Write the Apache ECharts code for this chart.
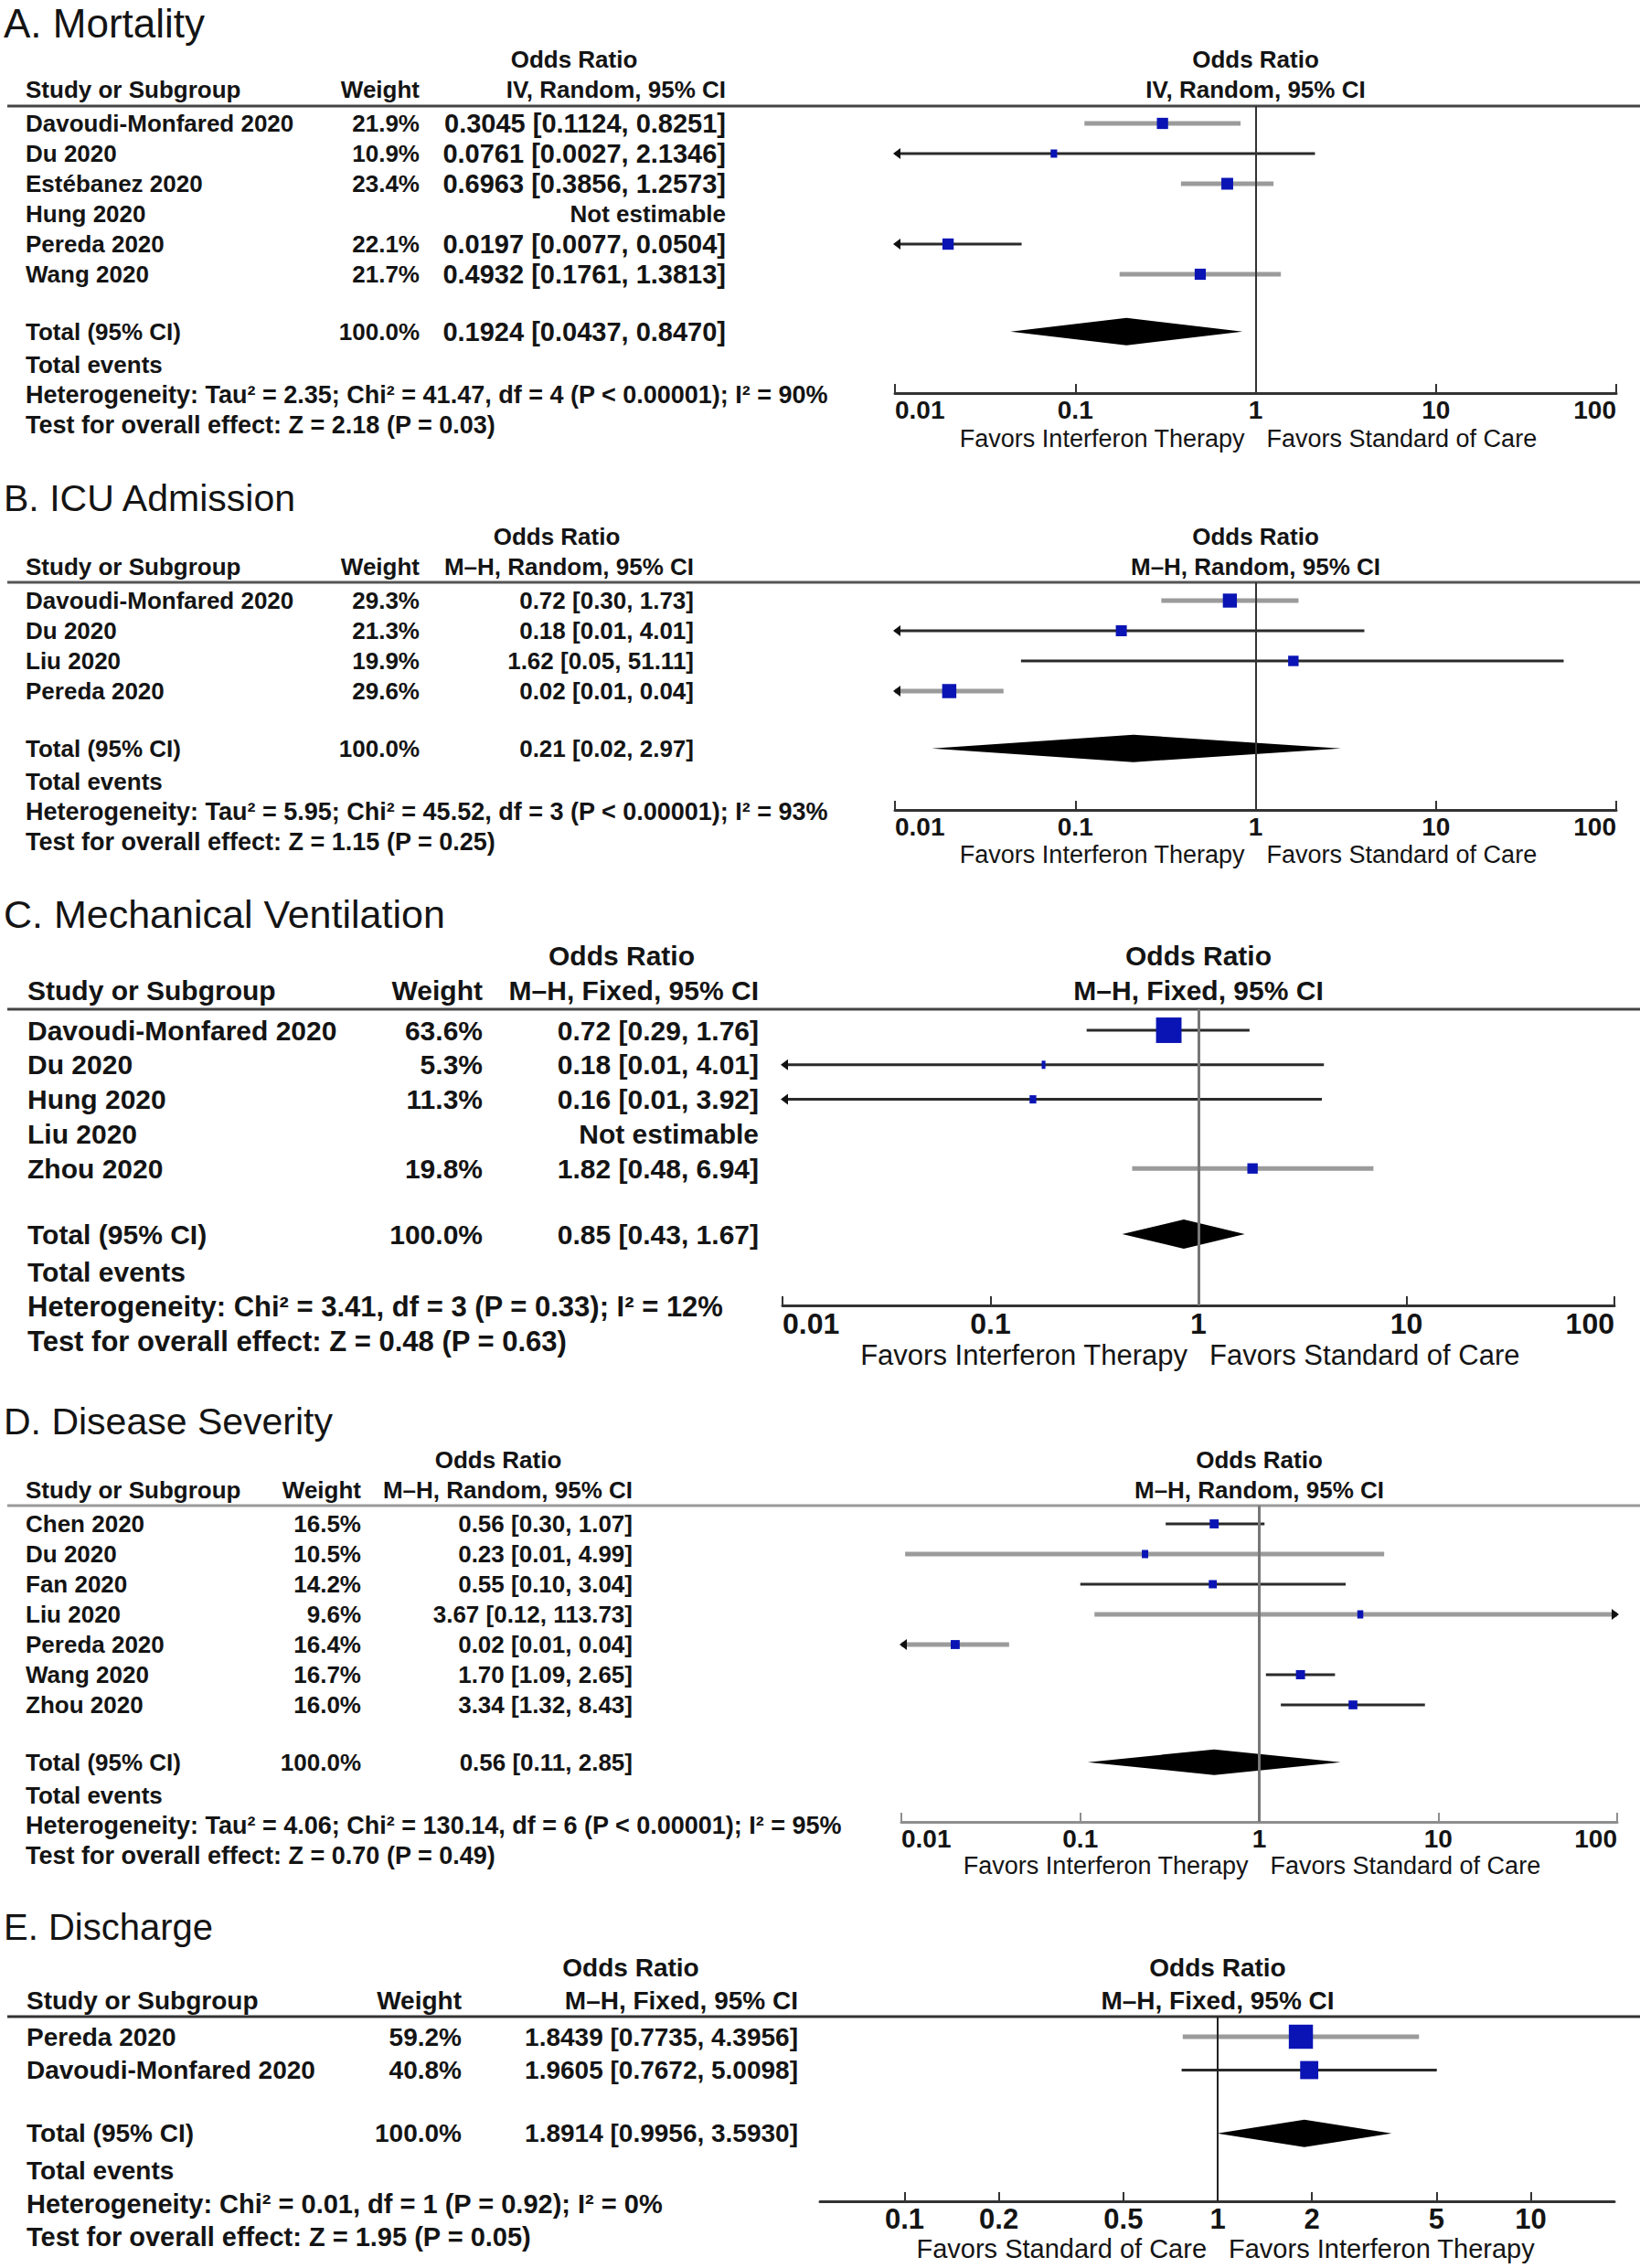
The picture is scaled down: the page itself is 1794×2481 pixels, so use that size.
<!DOCTYPE html>
<html>
<head>
<meta charset="utf-8">
<script src="https://cdn.jsdelivr.net/npm/echarts@6/dist/echarts.min.js"></script>
<style>
html, body { margin: 0; padding: 0; background: #fff; }
#chart { width: 1794px; height: 2481px; }
</style>
</head>
<body>
<div id="chart"></div>
<script>
var FONT = '"Liberation Sans", Arial, Helvetica, sans-serif';

// ---- A. Mortality (IV, Random) ----
var studiesA = ['Davoudi-Monfared 2020', 'Du 2020', 'Estébanez 2020', 'Hung 2020', 'Pereda 2020', 'Wang 2020'];
var weightsA = [21.9, 10.9, 23.4, null, 22.1, 21.7];
var orA = [0.3045, 0.0761, 0.6963, null, 0.0197, 0.4932];
var lowerA = [0.1124, 0.0027, 0.3856, null, 0.0077, 0.1761];
var upperA = [0.8251, 2.1346, 1.2573, null, 0.0504, 1.3813];
var totalA = [0.1924, 0.0437, 0.8470];
var statsA = ['Heterogeneity: Tau² = 2.35; Chi² = 41.47, df = 4 (P < 0.00001); I² = 90%', 'Test for overall effect: Z = 2.18 (P = 0.03)'];

// ---- B. ICU Admission (M-H, Random) ----
var studiesB = ['Davoudi-Monfared 2020', 'Du 2020', 'Liu 2020', 'Pereda 2020'];
var weightsB = [29.3, 21.3, 19.9, 29.6];
var orB = [0.72, 0.18, 1.62, 0.02];
var lowerB = [0.30, 0.008, 0.05, 0.008];   // <0.01 drawn with arrow, printed as 0.01
var upperB = [1.73, 4.01, 51.11, 0.04];
var totalB = [0.21, 0.016, 2.97];
var statsB = ['Heterogeneity: Tau² = 5.95; Chi² = 45.52, df = 3 (P < 0.00001); I² = 93%', 'Test for overall effect: Z = 1.15 (P = 0.25)'];

// ---- C. Mechanical Ventilation (M-H, Fixed) ----
var studiesC = ['Davoudi-Monfared 2020', 'Du 2020', 'Hung 2020', 'Liu 2020', 'Zhou 2020'];
var weightsC = [63.6, 5.3, 11.3, null, 19.8];
var orC = [0.72, 0.18, 0.16, null, 1.82];
var lowerC = [0.29, 0.008, 0.008, null, 0.48];
var upperC = [1.76, 4.01, 3.92, null, 6.94];
var totalC = [0.85, 0.43, 1.67];
var statsC = ['Heterogeneity: Chi² = 3.41, df = 3 (P = 0.33); I² = 12%', 'Test for overall effect: Z = 0.48 (P = 0.63)'];

// ---- D. Disease Severity (M-H, Random) ----
var studiesD = ['Chen 2020', 'Du 2020', 'Fan 2020', 'Liu 2020', 'Pereda 2020', 'Wang 2020', 'Zhou 2020'];
var weightsD = [16.5, 10.5, 14.2, 9.6, 16.4, 16.7, 16.0];
var orD = [0.56, 0.23, 0.55, 3.67, 0.02, 1.70, 3.34];
var lowerD = [0.30, 0.0105, 0.10, 0.12, 0.008, 1.09, 1.32];
var upperD = [1.07, 4.99, 3.04, 113.73, 0.04, 2.65, 8.43];
var totalD = [0.56, 0.11, 2.85];
var statsD = ['Heterogeneity: Tau² = 4.06; Chi² = 130.14, df = 6 (P < 0.00001); I² = 95%', 'Test for overall effect: Z = 0.70 (P = 0.49)'];

// ---- E. Discharge (M-H, Fixed) ----
var studiesE = ['Pereda 2020', 'Davoudi-Monfared 2020'];
var weightsE = [59.2, 40.8];
var orE = [1.8439, 1.9605];
var lowerE = [0.7735, 0.7672];
var upperE = [4.3956, 5.0098];
var totalE = [1.8914, 0.9956, 3.5930];
var statsE = ['Heterogeneity: Chi² = 0.01, df = 1 (P = 0.92); I² = 0%', 'Test for overall effect: Z = 1.95 (P = 0.05)'];

// axis ticks and side labels
var ticksWide = [0.01, 0.1, 1, 10, 100];
var ticksE = [0.1, 0.2, 0.5, 1, 2, 5, 10];
var favorsAD = ['Favors Interferon Therapy', 'Favors Standard of Care'];
var favorsE = ['Favors Standard of Care', 'Favors Interferon Therapy'];

// line tone of each CI bar as it appears in the scan (g = grey, k = black)
var toneA = ['g', 'k', 'g', null, 'k', 'g'];
var toneB = ['g', 'k', 'k', 'g'];
var toneC = ['k', 'k', 'k', null, 'g'];
var toneD = ['k', 'g', 'k', 'g', 'g', 'k', 'k'];
var toneE = ['g', 'k'];

var panels = [
  { title: 'A. Mortality', method: 'IV, Random, 95% CI', studies: studiesA, w: weightsA, or: orA, lo: lowerA, hi: upperA, total: totalA, stats: statsA, dec: 4, tone: toneA, ticks: ticksWide, favors: favorsAD,
    L: { title: 25, orY: 65, col: 98, rule: 116, row0: 135, step: 33, axis: 430, ax0: 979, ax1: 1768, xmin: -2, xmax: 2, studyX: 28, weightR: 459, ciR: 794, orX: 628, fs: 26, cfs: 29, tfs: 28, ffs: 27, titleFs: 44, fav: 480, dia: 30, axisCol: '#333', vCol: '#333', vW: 2, ruleCol: '#444' } },
  { title: 'B. ICU Admission', method: 'M\u2013H, Random, 95% CI', studies: studiesB, w: weightsB, or: orB, lo: lowerB, hi: upperB, total: totalB, stats: statsB, dec: 2, tone: toneB, ticks: ticksWide, favors: favorsAD,
    L: { title: 545, orY: 587, col: 620, rule: 637, row0: 657, step: 33, axis: 886, ax0: 979, ax1: 1768, xmin: -2, xmax: 2, studyX: 28, weightR: 459, ciR: 759, orX: 609, fs: 26, cfs: 26, tfs: 28, ffs: 27, titleFs: 41, fav: 935, dia: 30, axisCol: '#333', vCol: '#333', vW: 2, ruleCol: '#555' } },
  { title: 'C. Mechanical Ventilation', method: 'M\u2013H, Fixed, 95% CI', studies: studiesC, w: weightsC, or: orC, lo: lowerC, hi: upperC, total: totalC, stats: statsC, dec: 2, tone: toneC, ticks: ticksWide, favors: favorsAD,
    L: { title: 1000, orY: 1045, col: 1083, rule: 1104, row0: 1127, step: 37.8, axis: 1428, ax0: 856, ax1: 1766, xmin: -2, xmax: 2, studyX: 30, weightR: 528, ciR: 830, orX: 680, fs: 30, cfs: 30, tfs: 32, ffs: 31, titleFs: 43, fav: 1482, dia: 32, axisCol: '#333', vCol: '#777', vW: 3, ruleCol: '#444' } },
  { title: 'D. Disease Severity', method: 'M\u2013H, Random, 95% CI', studies: studiesD, w: weightsD, or: orD, lo: lowerD, hi: upperD, total: totalD, stats: statsD, dec: 2, tone: toneD, ticks: ticksWide, favors: favorsAD,
    L: { title: 1555, orY: 1597, col: 1630, rule: 1647, row0: 1667, step: 33, axis: 1993, ax0: 986, ax1: 1769, xmin: -2, xmax: 2, studyX: 28, weightR: 395, ciR: 692, orX: 545, fs: 26, cfs: 26, tfs: 28, ffs: 27, titleFs: 41, fav: 2041, dia: 28, axisCol: '#8e8e8e', vCol: '#777', vW: 3, ruleCol: '#999' } },
  { title: 'E. Discharge', method: 'M\u2013H, Fixed, 95% CI', studies: studiesE, w: weightsE, or: orE, lo: lowerE, hi: upperE, total: totalE, stats: statsE, dec: 4, tone: toneE, ticks: ticksE, favors: favorsE,
    L: { title: 2108, orY: 2152, col: 2188, rule: 2206, row0: 2228, step: 36.5, axis: 2408, ax0: 897, ax1: 1766, xmin: -1.27, xmax: 1.267, studyX: 29, weightR: 505, ciR: 873, orX: 690, fs: 28, cfs: 28, tfs: 31, ffs: 29, titleFs: 40, fav: 2460, dia: 30, axisCol: '#333', vCol: '#222', vW: 2, ruleCol: '#333' } }
];

function txt(x, y, s, size, bold, align) {
  return {
    type: 'text', x: x, y: y, silent: true,
    style: { text: s, fill: '#141414', font: (bold ? 'bold ' : '') + size + 'px ' + FONT, align: align || 'left', verticalAlign: 'middle' }
  };
}

function fmtTick(v) {
  return String(Number(Math.pow(10, v).toPrecision(6)));
}

var grids = [], xAxes = [], yAxes = [], series = [], graphics = [];

panels.forEach(function (p, k) {
  var L = p.L, n = p.studies.length;
  var rowY = function (r) { return L.row0 + r * L.step; };
  var x1 = L.ax0 + (0 - L.xmin) / (L.xmax - L.xmin) * (L.ax1 - L.ax0);

  grids.push({ left: L.ax0, width: L.ax1 - L.ax0, top: L.rule, height: L.axis - L.rule, containLabel: false });

  var xa = {
    gridIndex: k, type: 'value', min: L.xmin, max: L.xmax, position: 'bottom',
    axisLine: { show: true, onZero: false, lineStyle: { color: L.axisCol, width: 3 } },
    axisTick: { show: true, inside: true, length: 10, lineStyle: { color: L.axisCol, width: 2 } },
    axisLabel: { show: true, margin: 4, fontSize: L.tfs, fontWeight: 'bold', fontFamily: FONT, color: '#141414', formatter: fmtTick },
    splitLine: { show: false }
  };
  if (p.ticks.length === 5) {
    xa.interval = 1;
    xa.axisLabel.alignMinLabel = 'left';
    xa.axisLabel.alignMaxLabel = 'right';
  } else {
    var cv = p.ticks.map(function (t) { return Math.log10(t); });
    xa.axisTick.customValues = cv;
    xa.axisLabel.customValues = cv;
  }
  xAxes.push(xa);
  yAxes.push({ gridIndex: k, type: 'value', inverse: true, show: false,
    min: (L.rule - L.row0) / L.step, max: (L.axis - L.row0) / L.step });

  // study rows -> CI bars and weighted squares
  var rows = [];
  p.studies.forEach(function (s, i) {
    if (p.or[i] == null) return;
    rows.push([i, Math.log10(p.lo[i]), Math.log10(p.or[i]), Math.log10(p.hi[i]), p.w[i], i]);
  });
  var tone = p.tone;
  series.push({
    type: 'custom', xAxisIndex: k, yAxisIndex: k, clip: false, silent: true,
    data: rows,
    renderItem: function (params, api) {
      var row = api.value(0), lo = api.value(1), est = api.value(2), hi = api.value(3), w = api.value(4), idx = api.value(5);
      var a = api.coord([Math.max(lo, L.xmin), row]);
      var b = api.coord([Math.min(hi, L.xmax), row]);
      var c = api.coord([est, row]);
      var st = tone[idx] === 'g' ? { stroke: '#9b9b9b', lineWidth: 5 } : { stroke: '#2a2a2a', lineWidth: 3 };
      var kids = [{ type: 'line', shape: { x1: a[0], y1: a[1], x2: b[0], y2: b[1] }, style: st }];
      if (lo < L.xmin) {
        kids.push({ type: 'polygon', shape: { points: [[a[0] - 2, a[1]], [a[0] + 6, a[1] - 6], [a[0] + 6, a[1] + 6]] }, style: { fill: '#111' } });
      }
      if (hi > L.xmax) {
        kids.push({ type: 'polygon', shape: { points: [[b[0] + 2, b[1]], [b[0] - 6, b[1] - 6], [b[0] - 6, b[1] + 6]] }, style: { fill: '#111' } });
      }
      var s = Math.max(4, 1.14 * Math.pow(w, 0.77));
      var h = Math.max(s, 9);
      kids.push({ type: 'rect', shape: { x: c[0] - s / 2, y: c[1] - h / 2, width: s, height: h }, style: { fill: '#0a14b4' } });
      return { type: 'group', children: kids };
    },
    markLine: {
      silent: true, symbol: ['none', 'none'], label: { show: false },
      lineStyle: { color: L.vCol, width: L.vW, type: 'solid' },
      data: [{ xAxis: 0 }]
    },
    z: 3
  });

  // pooled estimate diamond
  var t = p.total;
  series.push({
    type: 'custom', xAxisIndex: k, yAxisIndex: k, clip: false, silent: true,
    data: [[n + 0.9, Math.log10(t[1]), Math.log10(t[0]), Math.log10(t[2])]],
    renderItem: function (params, api) {
      var row = api.value(0);
      var l = api.coord([api.value(1), row]);
      var m = api.coord([api.value(2), row]);
      var r = api.coord([api.value(3), row]);
      var hh = L.dia / 2;
      return { type: 'polygon', shape: { points: [[l[0], l[1]], [m[0], m[1] - hh], [r[0], r[1]], [m[0], m[1] + hh]] }, style: { fill: '#000' } };
    },
    z: 4
  });

  // table text
  graphics.push(txt(4, L.title, p.title, L.titleFs, false, 'left'));
  graphics.push(txt(L.orX, L.orY, 'Odds Ratio', L.fs, true, 'center'));
  graphics.push(txt(x1, L.orY, 'Odds Ratio', L.fs, true, 'center'));
  graphics.push(txt(L.studyX, L.col, 'Study or Subgroup', L.fs, true, 'left'));
  graphics.push(txt(L.weightR, L.col, 'Weight', L.fs, true, 'right'));
  graphics.push(txt(L.ciR, L.col, p.method, L.fs, true, 'right'));
  graphics.push(txt(x1, L.col, p.method, L.fs, true, 'center'));
  graphics.push({ type: 'line', silent: true, shape: { x1: 8, y1: L.rule, x2: 1794, y2: L.rule }, style: { stroke: L.ruleCol, lineWidth: 3 } });

  p.studies.forEach(function (s, i) {
    var y = rowY(i);
    graphics.push(txt(L.studyX, y, s, L.fs, true, 'left'));
    if (p.or[i] == null) {
      graphics.push(txt(L.ciR, y, 'Not estimable', L.fs, true, 'right'));
    } else {
      graphics.push(txt(L.weightR, y, p.w[i].toFixed(1) + '%', L.fs, true, 'right'));
      graphics.push(txt(L.ciR, y, p.or[i].toFixed(p.dec) + ' [' + p.lo[i].toFixed(p.dec) + ', ' + p.hi[i].toFixed(p.dec) + ']', L.cfs, true, 'right'));
    }
  });
  var yt = rowY(n + 0.9);
  graphics.push(txt(L.studyX, yt, 'Total (95% CI)', L.fs, true, 'left'));
  graphics.push(txt(L.weightR, yt, '100.0%', L.fs, true, 'right'));
  graphics.push(txt(L.ciR, yt, t[0].toFixed(p.dec) + ' [' + t[1].toFixed(p.dec) + ', ' + t[2].toFixed(p.dec) + ']', L.cfs, true, 'right'));
  graphics.push(txt(L.studyX, rowY(n + 2), 'Total events', L.fs, true, 'left'));
  graphics.push(txt(L.studyX, rowY(n + 3), p.stats[0], L.fs + 1, true, 'left'));
  graphics.push(txt(L.studyX, rowY(n + 4), p.stats[1], L.fs + 1, true, 'left'));

  graphics.push(txt(x1 - 12, L.fav, p.favors[0], L.ffs, false, 'right'));
  graphics.push(txt(x1 + 12, L.fav, p.favors[1], L.ffs, false, 'left'));
});

var chart = echarts.init(document.getElementById('chart'), null, { renderer: 'svg', width: 1794, height: 2481 });
chart.setOption({
  animation: false,
  backgroundColor: '#fff',
  grid: grids,
  xAxis: xAxes,
  yAxis: yAxes,
  series: series,
  graphic: { elements: graphics }
});
</script>
</body>
</html>
